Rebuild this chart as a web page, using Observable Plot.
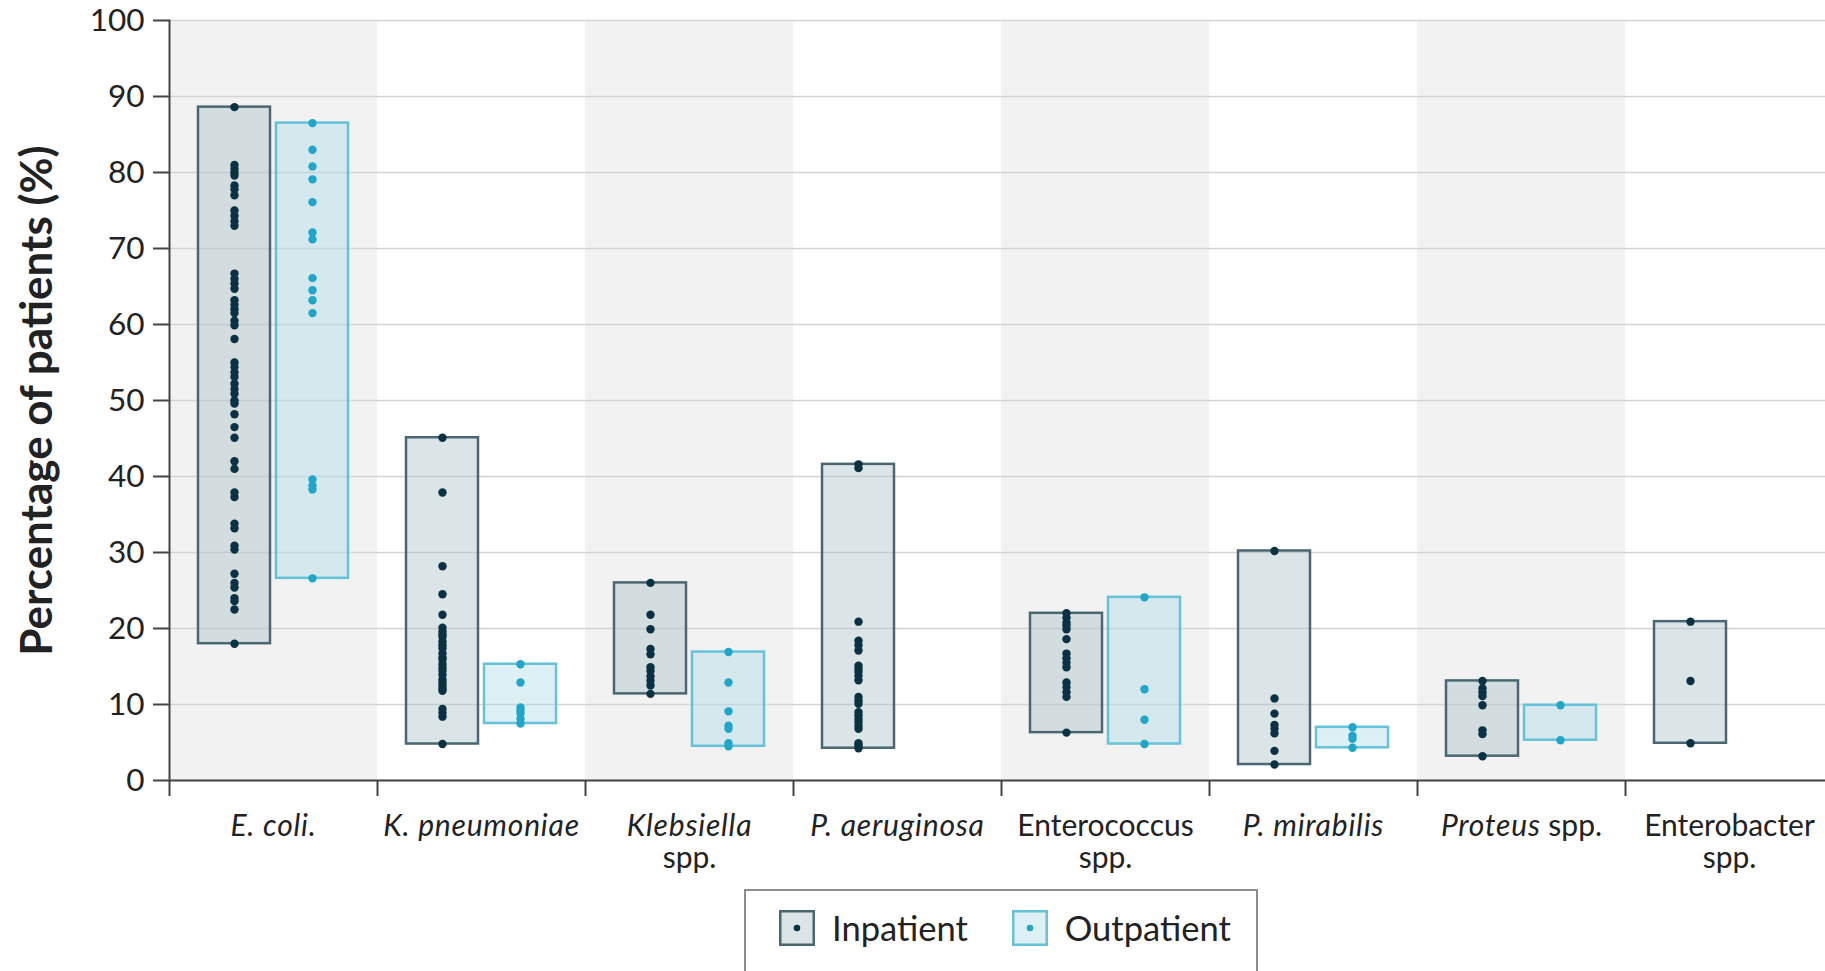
<!DOCTYPE html>
<html>
<head>
<meta charset="utf-8">
<script src="https://cdn.jsdelivr.net/npm/d3@7"></script>
<script src="https://cdn.jsdelivr.net/npm/@observablehq/plot@0.6"></script>
<style>
  html, body { margin: 0; padding: 0; background: #fff; }
  body { font-family: Lato, "Open Sans", sans-serif; color: #222; width: 1825px; height: 971px; overflow: hidden; }
  #legend {
    margin-left: 744px; margin-top: 9px; width: 514px; height: 100px;
    border: 2px solid #8c8c8c; border-bottom: none; box-sizing: border-box;
    display: flex; align-items: flex-start; padding-left: 33px; padding-top: 19px;
    font-size: 34.5px;
  }
  .item { display: flex; align-items: center; }
  .item svg { display: block; }
  .item span { margin-left: 17px; line-height: 36px; }
  .item + .item { margin-left: 44px; }
</style>
</head>
<body>
<div id="chart"></div>
<div id="legend"></div>
<script>
// ---- data ----
const categories = ["E. coli.", "K. pneumoniae", "Klebsiella\nspp.", "P. aeruginosa", "Enterococcus\nspp.", "P. mirabilis", "Proteus spp.", "Enterobacter\nspp."];
const patientTypes = ["Inpatient", "Outpatient"];
const yTicks = [0, 10, 20, 30, 40, 50, 60, 70, 80, 90, 100];
const yLabel = "Percentage of patients (%)";
const italicParts = ["E. coli.", "K. pneumoniae", "Klebsiella", "P. aeruginosa", "P. mirabilis", "Proteus"];

const eColiInpatient = [88.6, 81.0, 80.5, 80.0, 79.6, 78.3, 77.8, 77.0, 75.0, 74.3, 73.6, 73.0, 66.7, 66.0, 65.4, 64.7, 63.2, 62.6, 62.0, 61.5, 60.5, 59.9, 58.1, 55.0, 54.4, 53.7, 53.1, 52.2, 51.5, 50.9, 50.0, 49.6, 48.2, 46.5, 45.1, 42.0, 41.0, 37.9, 37.3, 33.8, 33.2, 30.9, 30.4, 27.2, 26.0, 25.4, 24.0, 23.6, 22.5, 18.0];
const eColiOutpatient = [86.5, 83.0, 80.8, 79.1, 76.1, 72.1, 71.2, 66.1, 64.5, 63.2, 61.5, 39.6, 38.8, 38.3, 26.6];
const kPneumoniaeInpatient = [45.1, 37.9, 28.2, 24.5, 21.8, 20.1, 19.6, 19.2, 18.9, 18.3, 17.8, 17.4, 16.7, 16.2, 15.9, 15.3, 14.8, 14.4, 13.9, 13.3, 12.9, 12.5, 12.1, 11.8, 9.4, 8.9, 8.4, 4.8];
const kPneumoniaeOutpatient = [15.3, 12.9, 9.6, 9.2, 8.8, 8.1, 7.5];
const klebsiellaInpatient = [26.0, 21.8, 19.9, 17.3, 16.6, 14.9, 14.4, 13.7, 13.1, 12.5, 11.4];
const klebsiellaOutpatient = [16.9, 12.9, 9.1, 7.2, 6.8, 4.9, 4.5];
const pAeruginosaInpatient = [41.6, 41.1, 20.9, 18.4, 17.8, 17.1, 15.1, 14.7, 14.3, 13.8, 13.2, 11.0, 10.5, 10.1, 9.0, 8.6, 8.1, 7.7, 7.2, 6.8, 4.9, 4.6, 4.25];
const enterococcusInpatient = [22.0, 21.4, 20.8, 20.4, 19.9, 18.6, 16.7, 16.1, 15.5, 14.9, 12.9, 12.3, 11.6, 11.0, 6.3];
const enterococcusOutpatient = [24.1, 12.0, 8.0, 4.8];
const pMirabilisInpatient = [30.2, 10.8, 8.8, 7.3, 6.8, 6.2, 3.9, 2.1];
const pMirabilisOutpatient = [7.0, 5.9, 5.5, 4.3];
const proteusInpatient = [13.1, 12.1, 11.6, 11.1, 9.9, 6.6, 6.1, 3.2];
const proteusOutpatient = [9.9, 5.3];
const enterobacterInpatient = [20.9, 13.1, 4.9];

const series = [
  [categories[0], "Inpatient", eColiInpatient],
  [categories[0], "Outpatient", eColiOutpatient],
  [categories[1], "Inpatient", kPneumoniaeInpatient],
  [categories[1], "Outpatient", kPneumoniaeOutpatient],
  [categories[2], "Inpatient", klebsiellaInpatient],
  [categories[2], "Outpatient", klebsiellaOutpatient],
  [categories[3], "Inpatient", pAeruginosaInpatient],
  [categories[4], "Inpatient", enterococcusInpatient],
  [categories[4], "Outpatient", enterococcusOutpatient],
  [categories[5], "Inpatient", pMirabilisInpatient],
  [categories[5], "Outpatient", pMirabilisOutpatient],
  [categories[6], "Inpatient", proteusInpatient],
  [categories[6], "Outpatient", proteusOutpatient],
  [categories[7], "Inpatient", enterobacterInpatient]
];
const rows = series.flatMap(([cat, type, values]) => values.map(value => ({cat, type, value})));
const shadedCats = categories.filter((c, i) => i % 2 === 0);

// ---- styles ----
const typeStyle = {
  Inpatient:  {fill: "#a9bec5", stroke: "#4a6771", dot: "#0b3243"},
  Outpatient: {fill: "#acdbe9", stroke: "#66c2d8", dot: "#22a6c7"}
};
const axisColor = "#444";

const boxMarks = patientTypes.flatMap(t => {
  const data = rows.filter(d => d.type === t);
  const s = typeStyle[t];
  return [
    Plot.barY(data, Plot.groupX({y1: "min", y2: "max"}, {
      fx: "cat", x: "type", y: "value",
      fill: s.fill, fillOpacity: 0.42, stroke: s.stroke, strokeWidth: 2.5
    })),
    Plot.dot(data, {fx: "cat", x: "type", y: "value", r: 4.2, fill: s.dot, stroke: "none"})
  ];
});

const chart = Plot.plot({
  width: 1825,
  height: 880,
  marginLeft: 169,
  marginRight: -8,
  marginTop: 20,
  marginBottom: 100,
  style: {fontFamily: "Lato, 'Open Sans', sans-serif", fontSize: "30px", color: "#222", background: "white"},
  fx: {domain: categories, padding: 0, label: null},
  x: {domain: patientTypes, paddingInner: 0.08, paddingOuter: 0.36, axis: null},
  y: {domain: [0, 100], label: null},
  marks: [
    Plot.barY(shadedCats, {fx: d => d, y1: 0, y2: 100, fill: "#f2f2f2"}),
    Plot.gridY({ticks: yTicks, stroke: "#d4d4d4", strokeOpacity: 1, strokeWidth: 1.5}),
    ...boxMarks,
    Plot.ruleY([0], {stroke: axisColor, strokeWidth: 2}),
    Plot.frame({anchor: "left", facetAnchor: "left", stroke: axisColor, strokeWidth: 2}),
    Plot.axisY({ticks: yTicks, tickSize: 16, tickPadding: 9, stroke: axisColor, strokeWidth: 2, color: "#222", label: null, fontSize: 31.5}),
    Plot.axisFx({anchor: "bottom", tickSize: 16, tickFormat: () => "", dx: -104, stroke: axisColor, strokeWidth: 2, label: null}),
    Plot.axisFx({anchor: "bottom", tickSize: 0, tickPadding: 32, lineHeight: 1.08, label: null, fontSize: 30, color: "#222"}),
    Plot.text([yLabel], {facet: "super", frameAnchor: "left", textAnchor: "middle", rotate: -90, dx: -132, fontSize: 44, fontWeight: "bold", fill: "#222"})
  ]
});
document.getElementById("chart").append(chart);

// italic species names in the category labels
const ns = "http://www.w3.org/2000/svg";
chart.querySelectorAll('g[aria-label="fx-axis tick label"] text').forEach(t => {
  const tspans = [...t.querySelectorAll("tspan")];
  const lines = tspans.length ? tspans : [t];
  lines.forEach(line => {
    const s = line.textContent;
    const it = italicParts.find(w => s.startsWith(w));
    if (it) {
      line.textContent = "";
      const a = document.createElementNS(ns, "tspan");
      a.setAttribute("font-style", "italic");
      a.setAttribute("letter-spacing", "0.8");
      a.textContent = it;
      line.appendChild(a);
      const rest = s.slice(it.length);
      if (rest) line.appendChild(document.createTextNode(rest));
    }
  });
});

// legend
const legend = document.getElementById("legend");
patientTypes.forEach(t => {
  const s = typeStyle[t];
  const item = document.createElement("div");
  item.className = "item";
  item.innerHTML = `<svg width="36" height="36"><rect x="1.25" y="1.25" width="33.5" height="33.5" fill="${s.fill}" fill-opacity="0.42" stroke="${s.stroke}" stroke-width="2.5"/><circle cx="18" cy="18" r="3.3" fill="${s.dot}"/></svg><span>${t}</span>`;
  legend.appendChild(item);
});
</script>
</body>
</html>
